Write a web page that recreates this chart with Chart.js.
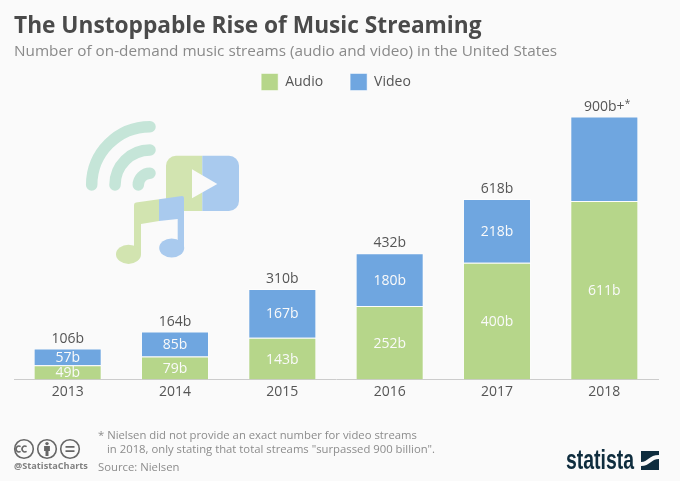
<!DOCTYPE html>
<html>
<head>
<meta charset="utf-8">
<title>Music Streaming</title>
<script src="https://cdn.jsdelivr.net/npm/chart.js@4/dist/chart.umd.min.js"></script>
<style>
  html, body { margin: 0; padding: 0; background: #fafafa; }
  body { width: 680px; height: 481px; position: relative; overflow: hidden; font-family: "Open Sans", sans-serif; }
  canvas { position: absolute; left: 0; top: 0; }
  .txt { position: absolute; white-space: nowrap; }
  #title { left: 14px; top: 9px; font-size: 22.7px; line-height: 32px; font-weight: 700; color: #4a4a4a; }
  #subtitle { left: 14px; top: 39px; font-size: 15.3px; line-height: 22px; color: #8a8a8a; }
  .note { font-size: 11.3px; line-height: 15px; color: #8c8c8c; }
  #handle { left: 14px; top: 460px; font-size: 9.2px; line-height: 12px; font-weight: 700; color: #808080; }
  #brand { left: 566px; top: 446px; font-family: "Liberation Sans", sans-serif; font-size: 27px; line-height: 28px; font-weight: 700; color: #0f2d3e; transform: scaleX(0.72); transform-origin: left top; }
  svg { position: absolute; left: 0; top: 0; }
</style>
</head>
<body>
<canvas id="myChart" width="680" height="481"></canvas>

<svg width="680" height="481" viewBox="0 0 680 481">
  <!-- wifi -->
  <g fill="none" stroke="#c5e5d8" stroke-width="11.5" stroke-linecap="round">
    <path d="M91.7 185 A58.3 58.3 0 0 1 150 126.7"/>
    <path d="M115 185 A35 35 0 0 1 150 150"/>
    <path d="M138.3 185 A11.7 11.7 0 0 1 150 173.3"/>
  </g>
  <!-- video -->
  <path d="M202.3 155.7 H176 a10 10 0 0 0 -10 10 V201 a10 10 0 0 0 10 10 H202.3 Z" fill="#d2e4b0"/>
  <path d="M202.3 155.7 H229 a10 10 0 0 1 10 10 V201 a10 10 0 0 1 -10 10 H202.3 Z" fill="#a9caee"/>
  <path d="M192 169.3 L217.3 184 L192 198.3 Z" fill="#fafafa"/>
  <!-- note -->
  <path d="M134 205 Q134 203 136 202.6 L159 199.3 V221 L141 224 V254 H134 Z" fill="#d2e4b0"/>
  <ellipse cx="128.5" cy="254.3" rx="12.5" ry="9.6" fill="#d2e4b0"/>
  <path d="M159 199.3 L182 196 Q184 196 184 198 V248 H177.7 V219 L159 221 Z" fill="#a9caee"/>
  <ellipse cx="171.7" cy="248" rx="12.5" ry="9.4" fill="#a9caee"/>
  <!-- cc icons -->
  <g fill="none" stroke="#666" stroke-width="1.6">
    <circle cx="24" cy="449" r="9.3"/>
    <circle cx="47" cy="449" r="9.3"/>
    <circle cx="70" cy="449" r="9.3"/>
    <path d="M24 446.6 a2.9 2.9 0 1 0 0 4.8 M30 446.6 a2.9 2.9 0 1 0 0 4.8" transform="translate(-3.4 0)"/>
    <path d="M65.5 446.8 H74.5 M65.5 451.2 H74.5" stroke-width="1.8"/>
  </g>
  <circle cx="47" cy="443.6" r="1.7" fill="#666"/>
  <path d="M44.1 446 H49.9 V451 H48.5 V456 H45.5 V451 H44.1 Z" fill="#666"/>
  <!-- statista mark -->
  <rect x="641" y="451" width="18" height="19" fill="#0f2d3e"/>
  <path d="M641 462 C648 462 649 455 659 455 V459 C651 459 650 466 641 466 Z" fill="#fafafa"/>
</svg>

<div class="txt" id="title">The Unstoppable Rise of Music Streaming</div>
<div class="txt" id="subtitle">Number of on-demand music streams (audio and video) in the United States</div>
<div class="txt note" style="left:98px;top:427px">* Nielsen did not provide an exact number for video streams</div>
<div class="txt note" style="left:107px;top:441px">in 2018, only stating that total streams "surpassed 900 billion".</div>
<div class="txt note" style="left:98px;top:459px">Source: Nielsen</div>
<div class="txt" id="handle">@StatistaCharts</div>
<div class="txt" id="brand">statista</div>

<script>
  const years = ['2013', '2014', '2015', '2016', '2017', '2018'];
  const audio = [49, 79, 143, 252, 400, 611];
  const video = [57, 85, 167, 180, 218, 289];
  const videoLabels = ['57b', '85b', '167b', '180b', '218b', ''];
  const totalLabels = ['106b', '164b', '310b', '432b', '618b', '900b+'];
  const totalMarks = ['', '', '', '', '', '*'];

  /* Labels inside and on top of the bars
  -----------------------------------------------*/
  const barLabels = {
    id: 'barLabels',
    afterDatasetsDraw(chart) {
      const ctx = chart.ctx;
      const audioBars = chart.getDatasetMeta(0).data;
      const videoBars = chart.getDatasetMeta(1).data;
      ctx.save();
      ctx.textBaseline = 'middle';
      years.forEach(function(year, i) {
        const a = audioBars[i], v = videoBars[i];
        ctx.font = '14px "Open Sans"';
        ctx.textAlign = 'center';
        ctx.fillStyle = '#fafafa';
        ctx.fillText(audio[i] + 'b', a.x, (a.y + a.base) / 2 + 1);
        ctx.fillText(videoLabels[i], v.x, (v.y + v.base) / 2 + 1);
        ctx.fillStyle = '#555';
        ctx.fillText(totalLabels[i], v.x, v.y - 10);
        if (totalMarks[i]) {
          ctx.textAlign = 'left';
          let w = ctx.measureText(totalLabels[i]).width;
          ctx.font = '10px "Open Sans"';
          ctx.fillText(totalMarks[i], v.x + w / 2, v.y - 12);
        }
      });
      ctx.restore();
    }
  };

  let ctx = document.getElementById('myChart').getContext('2d');
  let myChart = new Chart(ctx, {
    type: 'bar',
    plugins: [barLabels],
    data: {
      labels: years,
      datasets: [{
        label: 'Audio',
        data: audio,
        backgroundColor: '#b6d68a',
        borderColor: 'rgba(255,255,255,0.5)',
        borderWidth: 1
      }, {
        label: 'Video',
        data: video,
        backgroundColor: '#6fa6e0',
        borderColor: 'rgba(255,255,255,0.5)',
        borderWidth: 1
      }]
    },
    options: {
      responsive: false,
      animation: false,
      layout: { padding: { left: 14, right: 22, top: 46.5, bottom: 0 } },
      datasets: { bar: { barPercentage: 0.634, categoryPercentage: 1 } },
      plugins: {
        tooltip: { enabled: false },
        legend: {
          position: 'top',
          align: 'center',
          labels: {
            boxWidth: 17,
            boxHeight: 17,
            padding: 27,
            color: '#555',
            font: { family: '"Open Sans"', size: 14 }
          }
        }
      },
      scales: {
        x: {
          stacked: true,
          afterFit(scale) { scale.height = 101.5; },
          grid: { display: false, drawTicks: false },
          border: { color: '#cccccc', width: 1 },
          ticks: {
            padding: 4,
            color: '#555',
            maxRotation: 0,
            font: { family: '"Open Sans"', size: 14 }
          }
        },
        y: {
          stacked: true,
          display: false,
          min: 0,
          max: 955
        }
      }
    }
  });
</script>
</body>
</html>
